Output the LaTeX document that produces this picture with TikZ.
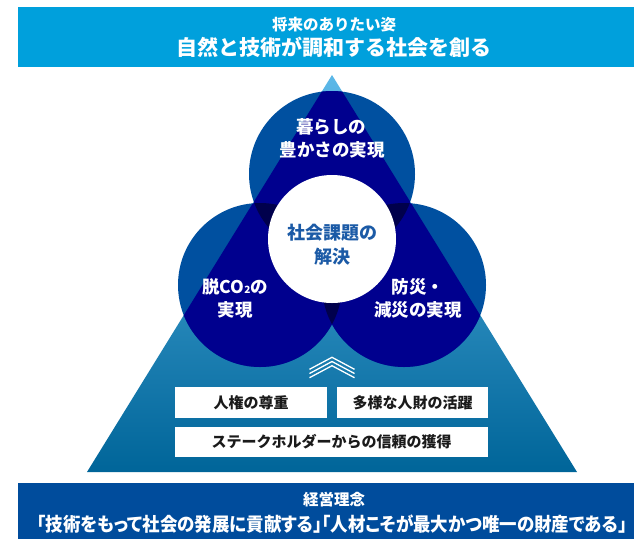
\documentclass[tikz,border=0pt]{standalone}
\usepackage{fontspec}
\usepackage{graphicx}
\newfontfamily\jp{Noto Sans CJK JP}
\newfontfamily\jpp{Noto Sans CJK JP}[RawFeature=+palt]
\definecolor{banTop}{HTML}{00A0DC}
\definecolor{banBot}{HTML}{004C9C}
\definecolor{circOut}{HTML}{0050A0}
\definecolor{circIn}{HTML}{00008E}
\definecolor{circOv}{HTML}{00004C}
\definecolor{triTop}{HTML}{5CB8E8}
\definecolor{triMid}{HTML}{008CCB}
\definecolor{triBot}{HTML}{006599}
\definecolor{centerTxt}{HTML}{1B5AA6}
\definecolor{boxTxt}{HTML}{1A1A1A}
\begin{document}
\begin{tikzpicture}[x=1pt,y=-1pt,
  banner/.style={fill=#1, draw=none, inner sep=0pt, anchor=north west},
  smalltxt/.style={text=white, inner sep=0pt, font=\jp\bfseries\fontsize{15.5}{18}\selectfont},
  bigtxt/.style={text=white, inner sep=0pt, font=\jp\bfseries\fontsize{21}{24}\selectfont},
  mottotxt/.style={text=white, inner sep=0pt, font=\jpp\bfseries\fontsize{19}{22}\selectfont},
  circtxt/.style={text=white, inner sep=0pt, font=\jp\bfseries\fontsize{17.5}{20}\selectfont},
  centtxt/.style={text=centerTxt, inner sep=0pt, font=\jp\bfseries\fontsize{18}{20}\selectfont},
  valbox/.style={fill=white, draw=none, inner sep=0pt, text=boxTxt, font=\jp\bfseries\fontsize{15}{18}\selectfont},
  chev/.style={draw=white, line width=1.3pt}
]
\useasboundingbox (0,0) rectangle (634,539);

% banners
\node[banner=banTop, minimum width=616pt, minimum height=60pt] (topban) at (18,7) {};
\node[banner=banBot, minimum width=616pt, minimum height=56pt] (botban) at (18,483) {};

% triangle
\coordinate (apex) at (332,75);
\coordinate (bl) at (87,472);
\coordinate (br) at (577,472);
\shade[top color=triTop, middle color=triMid, bottom color=triBot] (apex) -- (bl) -- (br) -- cycle;

% circles
\coordinate (ct) at (332,174);
\coordinate (cl) at (260,285);
\coordinate (cr) at (404,285);
\coordinate (cc) at (332,239);
\fill[circOut] (ct) circle[radius=83pt] (cl) circle[radius=82pt] (cr) circle[radius=82pt];
\begin{scope}
  \clip (apex) -- (bl) -- (br) -- cycle;
  \fill[circIn] (ct) circle[radius=83pt] (cl) circle[radius=82pt] (cr) circle[radius=82pt];
  \begin{scope}
    \clip (ct) circle[radius=83pt];
    \fill[circOv] (cl) circle[radius=82pt] (cr) circle[radius=82pt];
  \end{scope}
  \begin{scope}
    \clip (cl) circle[radius=82pt];
    \fill[circOv] (cr) circle[radius=82pt];
  \end{scope}
\end{scope}
\fill[white] (cc) circle[radius=64pt];

% chevrons
\foreach \k in {0,1,2} {
  \draw[chev] (309.5,{369.3+4.2*\k}) -- (332,{357.3+4.2*\k}) -- (354.5,{369.3+4.2*\k});
}

% value boxes
\node[valbox, minimum width=152pt, minimum height=31pt] (b1) at (251,402.5) {人権の尊重};
\node[valbox, minimum width=151pt, minimum height=31pt] (b2) at (412.5,402.5) {多様な人財の活躍};
\node[valbox, minimum width=313pt, minimum height=30pt] (b3) at (331.5,442) {ステークホルダーからの信頼の獲得};

% banner texts
\node[smalltxt] (t1) at (334,24.5) {将来のありたい姿};
\node[bigtxt] (t2) at (334,47.5) {自然と技術が調和する社会を創る};
\node[smalltxt] (m1) at (334,500) {経営理念};
\node[mottotxt] (m2) at (332,524) {\resizebox{590pt}{\height}{「技術をもって社会の発展に貢献する」「人材こそが最大かつ唯一の財産である」}};

% circle texts
\node[circtxt] (tc1) at (331,127) {暮らしの};
\node[circtxt] (tc2) at (332,150) {豊かさの実現};
\node[centtxt] (cc1) at (332,233) {社会課題の};
\node[centtxt] (cc2) at (332,257) {解決};
\node[circtxt] (lc1) at (235,287) {脱CO{\fontsize{10}{10}\selectfont 2}の};
\node[circtxt] (lc2) at (235,310) {実現};
\node[circtxt] (rc1) at (418,287) {防災・};
\node[circtxt] (rc2) at (418,310) {減災の実現};
\end{tikzpicture}
\end{document}
